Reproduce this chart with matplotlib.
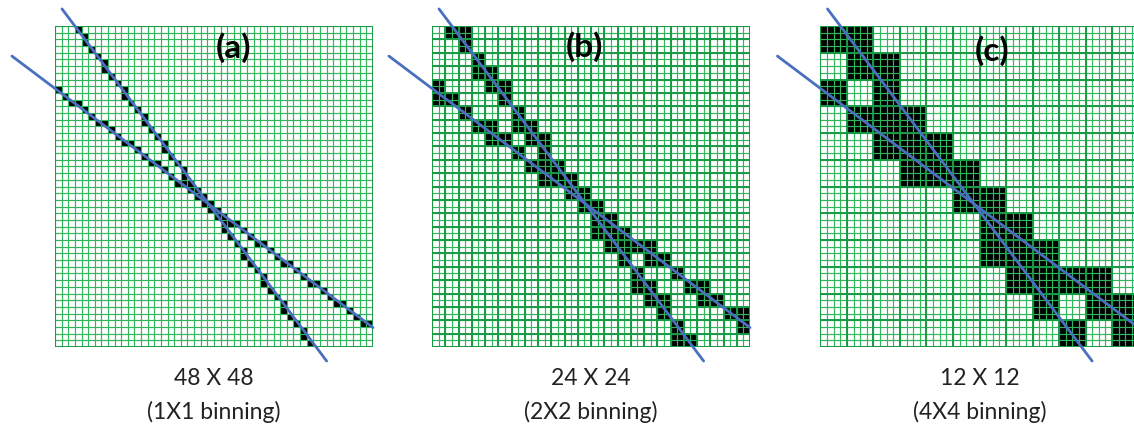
import matplotlib
matplotlib.use("Agg")
import matplotlib.pyplot as plt
from matplotlib.patches import Rectangle

plt.rcParams['font.family'] = ['Lato', 'DejaVu Sans']

# ---------------- data ----------------
N_FINE = 48

# panel (a): 1x1 binning -- hit column for each row (steep track), hit row for each column (shallow track)
steep_cols_a = [3, 4, 4, 5, 6, 7, 7, 8, 9, 10, 10, 11, 12, 13, 13, 14, 15, 16, 16, 17,
                18, 19, 19, 20, 21, 22, 22, 23, 24, 25, 25, 26, 27, 28, 28, 29, 30, 31, 31, 32,
                33, 34, 34, 35, 36, 37, 37, 38]
shallow_rows_a = [9, 10, 11, 11, 12, 13, 14, 14, 15, 16, 17, 17, 18, 19, 20, 20, 21, 22, 23, 23,
                  24, 25, 26, 26, 27, 28, 29, 29, 30, 31, 32, 32, 33, 34, 35, 35, 36, 37, 38, 38,
                  39, 40, 41, 41, 42, 43, 44, 44]

# panel (b): 2x2 binning (24x24) -- black cells per coarse row
black_b = {0: [1, 2], 1: [2], 2: [3], 3: [3, 4], 4: [0, 4, 5], 5: [0, 1, 5], 6: [2, 6],
           7: [3, 4, 6, 7], 8: [4, 5, 7, 8], 9: [6, 8], 10: [7, 8, 9], 11: [8, 9, 10],
           12: [10, 11], 13: [11, 12], 14: [12, 13], 15: [12, 13, 14], 16: [13, 14, 15, 16],
           17: [14, 16, 17], 18: [15, 18], 19: [15, 16, 19, 20], 20: [16, 17, 20, 21],
           21: [17, 22, 23], 22: [18, 23], 23: [18, 19]}

# panel (c): 4x4 binning (12x12) -- black cells per coarse row
black_c = {0: [0, 1], 1: [1, 2], 2: [0, 2], 3: [1, 2, 3], 4: [2, 3, 4], 5: [3, 4, 5],
           6: [5, 6], 7: [6, 7], 8: [6, 7, 8], 9: [7, 8, 9, 10], 10: [8, 10, 11], 11: [9, 11]}

# fitted track lines, in fine-cell units (column, row)
steep_line_cols = [1.06, 41.0]
steep_line_rows = [-2.55, 50.1]
shallow_line_cols = [-6.5, 48.0]
shallow_line_rows = [4.5, 45.1]

panel_tags = ["(a)", "(b)", "(c)"]
panel_sizes = ["48 X 48", "24 X 24", "12 X 12"]
panel_binning = ["(1X1 binning)", "(2X2 binning)", "(4X4 binning)"]
bin_factor = [1, 2, 4]

# ---------------- layout ----------------
W, H, DPI = 1134, 427, 100
fig = plt.figure(figsize=(W / DPI, H / DPI), dpi=DPI)

panel_left_px = [55, 432, 820.5]
panel_top_px, panel_bottom_px, panel_w_px = 27, 348, 318
tag_pos = [(0.561, 0.935), (0.478, 0.938), (0.538, 0.925)]

FINE_COL = "#30b45c"
COARSE_COL = "#189a45"
LINE_COL = "#4a6fbf"

for i in range(3):
    ax = fig.add_axes([panel_left_px[i] / W, (H - panel_bottom_px) / H,
                       panel_w_px / W, (panel_bottom_px - panel_top_px) / H])
    ax.set_xlim(0, N_FINE)
    ax.set_ylim(N_FINE, 0)
    ax.axis("off")

    # black cells
    if i == 0:
        cells = [(r, c) for r, c in enumerate(steep_cols_a)] + \
                [(r, c) for c, r in enumerate(shallow_rows_a)]
    elif i == 1:
        cells = [(r, c) for r, cs in black_b.items() for c in cs]
    else:
        cells = [(r, c) for r, cs in black_c.items() for c in cs]
    f = bin_factor[i]
    for r, c in cells:
        ax.add_patch(Rectangle((c * f, r * f), f, f, facecolor="black",
                               edgecolor="none", zorder=1))

    # fine grid
    ticks = list(range(N_FINE + 1))
    ax.vlines(ticks, 0, N_FINE, colors=FINE_COL, linewidth=0.85, zorder=2)
    ax.hlines(ticks, 0, N_FINE, colors=FINE_COL, linewidth=0.85, zorder=2)
    # coarse (binning) grid
    if f > 1:
        cticks = list(range(0, N_FINE + 1, f))
        ax.vlines(cticks, 0, N_FINE, colors=COARSE_COL, linewidth=1.4, zorder=3)
        ax.hlines(cticks, 0, N_FINE, colors=COARSE_COL, linewidth=1.4, zorder=3)
    # outer frame
    ax.vlines([0, N_FINE], 0, N_FINE, colors=COARSE_COL, linewidth=1.4, zorder=3)
    ax.hlines([0, N_FINE], 0, N_FINE, colors=COARSE_COL, linewidth=1.4, zorder=3)

    # track lines
    ax.plot(steep_line_cols, steep_line_rows, color=LINE_COL, linewidth=2.0,
            solid_capstyle="round", clip_on=False, zorder=5)
    ax.plot(shallow_line_cols, shallow_line_rows, color=LINE_COL, linewidth=2.0,
            solid_capstyle="round", clip_on=False, zorder=5)

    # labels
    ax.text(tag_pos[i][0], tag_pos[i][1], panel_tags[i], transform=ax.transAxes,
            ha="center", va="center", fontsize=24, fontweight="bold", color="black", zorder=6)
    ax.text(0.5, -0.094, panel_sizes[i], transform=ax.transAxes, ha="center", va="center",
            fontsize=16.5, color="#222222", clip_on=False)
    ax.text(0.5, -0.2, panel_binning[i], transform=ax.transAxes, ha="center", va="center",
            fontsize=16.5, color="#222222", clip_on=False)

fig.savefig("out.png", dpi=DPI)
